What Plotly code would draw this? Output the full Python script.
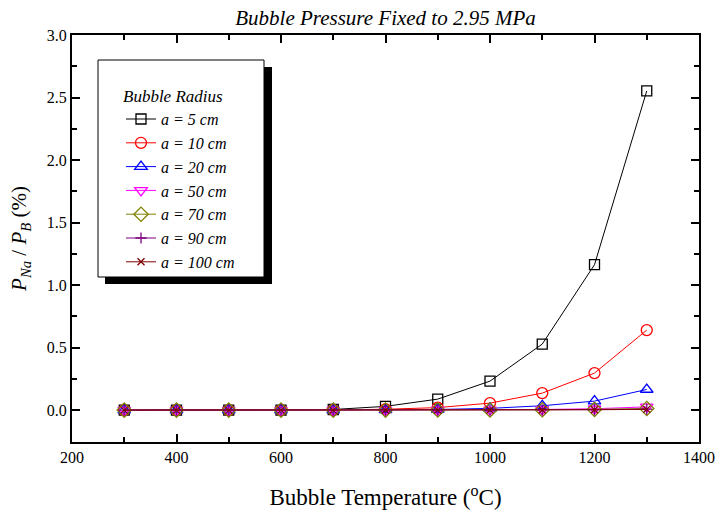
import plotly.graph_objects as go

temps = [300, 400, 500, 600, 700, 800, 900, 1000, 1100, 1200, 1300]
a5 = [0, 0, 0, 0, 0.005, 0.03, 0.088, 0.232, 0.528, 1.163, 2.553]
a10 = [0, 0, 0, 0, 0.001, 0.007, 0.02, 0.056, 0.136, 0.296, 0.64]
a20 = [0, 0, 0, 0, 0, 0.002, 0.005, 0.014, 0.035, 0.072, 0.165]
a50 = [0, 0, 0, 0, 0, 0, 0.001, 0.002, 0.005, 0.011, 0.026]
a70 = [0, 0, 0, 0, 0, 0, 0.001, 0.001, 0.003, 0.006, 0.013]
a90 = [0, 0, 0, 0, 0, 0, 0, 0.001, 0.002, 0.004, 0.008]
a100 = [0, 0, 0, 0, 0, 0, 0, 0.001, 0.001, 0.003, 0.006]

series = [
    ("a = 5 cm", a5, "black", "square-open", 10),
    ("a = 10 cm", a10, "#ff0000", "circle-open", 11),
    ("a = 20 cm", a20, "#0000ff", "triangle-up-open", 11),
    ("a = 50 cm", a50, "#ff00ff", "triangle-down-open", 11),
    ("a = 70 cm", a70, "#808000", "diamond-open", 11),
    ("a = 90 cm", a90, "#800080", "cross-thin-open", 8),
    ("a = 100 cm", a100, "#800000", "x-thin-open", 7),
]

fig = go.Figure()
for name, vals, col, sym, sz in series:
    fig.add_trace(go.Scatter(
        x=temps, y=vals, mode="lines+markers", name="<i>" + name + "</i>",
        line=dict(color=col, width=1),
        marker=dict(symbol=sym, size=sz, color=col, line=dict(color=col, width=1.3)),
    ))

font = "Liberation Serif"

L, R, T, B = 72, 699, 35, 442
W, H = R - L, B - T
def px(x):
    return (x - L) / W
def py(y):
    return (B - y) / H

shapes = [
    dict(type="rect", xref="paper", yref="paper", x0=px(105), x1=px(272), y0=py(284), y1=py(67),
         fillcolor="black", line=dict(width=0), layer="above"),
    dict(type="rect", xref="paper", yref="paper", x0=px(98), x1=px(264), y0=py(277), y1=py(60),
         fillcolor="white", line=dict(color="black", width=1), layer="above"),
]

fig.update_layout(
    width=718, height=512,
    margin=dict(l=L, r=718 - R, t=T, b=512 - B),
    paper_bgcolor="white", plot_bgcolor="white",
    font=dict(family=font, size=15, color="black"),
    title=dict(text="<i>Bubble Pressure Fixed to 2.95 MPa</i>", x=0.5, xref="paper",
               xanchor="center", y=1 - 18 / 512, yanchor="middle", font=dict(size=21)),
    shapes=shapes,
    showlegend=True,
    legend=dict(x=px(121), y=py(80), xanchor="left", yanchor="top",
                bgcolor="rgba(0,0,0,0)", borderwidth=0,
                title=dict(text="<i>Bubble Radius</i>", font=dict(size=17)),
                font=dict(size=16), tracegroupgap=0, itemwidth=30),
    xaxis=dict(range=[200, 1400], dtick=200, tick0=200, showgrid=False, zeroline=False,
               showline=True, linecolor="black", linewidth=2, mirror="ticks",
               ticks="inside", ticklen=8, tickwidth=1.5, tickcolor="black", automargin=False,
               minor=dict(dtick=100, ticks="inside", ticklen=5, tickwidth=1.5, tickcolor="black"),
               tickfont=dict(size=16),
               title=dict(text="Bubble Temperature (<sup>o</sup>C)", font=dict(size=23), standoff=24)),
    yaxis=dict(range=[-0.255, 3.0], dtick=0.5, tick0=0, tickformat=".1f", showgrid=False, zeroline=False,
               showline=True, linecolor="black", linewidth=2, mirror="ticks",
               ticks="inside", ticklen=8, tickwidth=1.5, tickcolor="black", automargin=False,
               minor=dict(dtick=0.25, ticks="inside", ticklen=5, tickwidth=1.5, tickcolor="black"),
               tickfont=dict(size=16),
               title=dict(text="<i>P</i><sub><i>Na</i></sub> / <i>P</i><sub><i>B</i></sub> (%)",
                          font=dict(size=21), standoff=14)),
)

fig.write_html("out.html", config={"displayModeBar": False},
               post_script="document.body.style.margin='0';document.body.style.overflow='hidden';")
